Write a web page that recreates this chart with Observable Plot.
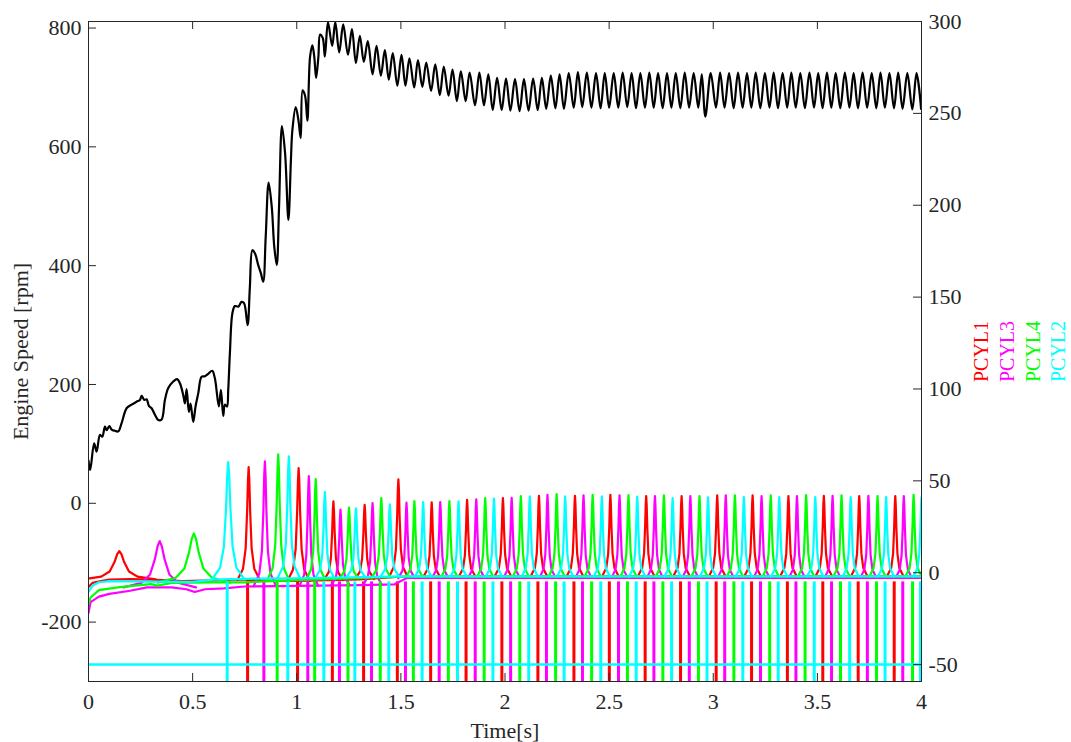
<!DOCTYPE html>
<html>
<head>
<meta charset="utf-8">
<script src="https://cdn.jsdelivr.net/npm/d3@7"></script>
<script src="https://cdn.jsdelivr.net/npm/@observablehq/plot@0.6"></script>
<style>
  html, body { margin: 0; padding: 0; background: #ffffff; }
  #chart svg { display: block; }
</style>
</head>
<body>
<div id="chart"></div>
<script>
// ---------- data ----------
const xTicks = [0, 0.5, 1, 1.5, 2, 2.5, 3, 3.5, 4];
const leftTicks = [-200, 0, 200, 400, 600, 800];
const rightTicks = [-50, 0, 50, 100, 150, 200, 250, 300];
const leftDomain = [-300, 811];
const rightDomain = [-59.2, 300];

const cylNames = ["PCYL1", "PCYL3", "PCYL4", "PCYL2"];
const cylColors = ["#ff0000", "#ff00ff", "#00ff00", "#00ffff"];

// Engine speed [t (s), rpm]
const speedRpm = [
[0.000,72],[0.008,56],[0.027,101],[0.039,87],[0.055,115],[0.066,112],[0.079,129],[0.087,123],[0.100,130],[0.111,124],
[0.127,122],[0.143,121],[0.159,135],[0.183,160],[0.207,166],[0.231,171],[0.247,174],[0.255,181],[0.268,174],[0.279,175],
[0.290,164],[0.303,160],[0.319,149],[0.335,140],[0.351,141],[0.367,174],[0.383,194],[0.407,205],[0.426,209],[0.439,202],
[0.455,182],[0.463,168],[0.471,192],[0.482,154],[0.490,168],[0.503,137],[0.514,163],[0.527,185],[0.543,213],[0.559,214],
[0.575,218],[0.594,223],[0.607,210],[0.626,163],[0.636,191],[0.647,147],[0.655,166],[0.665,163],[0.671,191],[0.679,253],
[0.691,320],[0.703,332],[0.719,331],[0.735,339],[0.747,337],[0.764,300],[0.775,365],[0.787,426],[0.799,421],[0.815,401],
[0.828,387],[0.839,373],[0.851,449],[0.865,540],[0.880,499],[0.892,432],[0.904,401],[0.915,499],[0.929,635],[0.944,589],
[0.960,477],[0.972,578],[0.979,628],[0.995,667],[1.008,645],[1.019,615],[1.028,695],[1.040,686],[1.051,644],[1.064,752],
[1.075,771],[1.084,752],[1.093,716],[1.104,752],[1.112,789],[1.125,783],[1.135,752],[1.150,810],[1.170,770],[1.185,810],
[1.204,759],[1.223,806],[1.246,755],[1.265,798],[1.284,741],[1.303,787],[1.322,743],[1.341,778],[1.364,722],[1.383,770],
[1.404,720],[1.423,763],[1.442,713],[1.461,758],[1.483,703],[1.503,755],[1.522,703],[1.541,749],[1.564,700],[1.582,746],
[1.603,701],[1.622,742],[1.645,694],[1.665,739],[1.687,687],[1.706,735],[1.729,686],[1.748,730],[1.769,677],[1.788,727],
[1.811,677],[1.830,725],[1.856,670],[1.877,725],[1.899,670],[1.920,722],[1.941,662],[1.962,716],[1.984,662],[2.005,715],
[2.026,661],[2.048,714],[2.070,660],[2.091,714],[2.113,661],[2.135,715],[2.157,662],[2.177,716],[2.198,664],[2.220,720],
[2.242,665],[2.262,722],[2.283,664],[2.306,724],[2.330,666],[2.350,726],[2.371,667],[2.393,725],[2.415,666],[2.437,724],
[2.459,665],[2.479,724],[2.500,666],[2.522,724],[2.544,666],[2.565,725],[2.587,667],[2.608,724],[2.629,665],[2.650,724],
[2.672,666],[2.693,725],[2.714,666],[2.735,724],[2.757,665],[2.778,724],[2.799,666],[2.820,724],[2.842,665],[2.863,725],
[2.884,666],[2.906,724],[2.928,666],[2.945,722],[2.962,651],[2.988,724],[3.013,666],[3.033,725],[3.054,666],[3.076,724],
[3.098,665],[3.119,725],[3.141,666],[3.162,724],[3.183,666],[3.204,725],[3.226,665],[3.248,724],[3.270,666],[3.290,725],
[3.311,665],[3.333,724],[3.355,666],[3.375,725],[3.396,666],[3.418,724],[3.440,665],[3.462,725],[3.484,666],[3.504,724],
[3.525,665],[3.546,725],[3.567,666],[3.588,724],[3.610,665],[3.632,725],[3.654,666],[3.674,724],[3.695,665],[3.717,725],
[3.739,666],[3.761,724],[3.783,665],[3.803,725],[3.824,666],[3.846,724],[3.868,665],[3.888,725],[3.909,664],[3.932,724],
[3.956,663],[3.976,724],[3.998,664]
];

// Cylinder pressure peaks (right axis); firing order 1-3-4-2 repeats (index % 4 -> cylNames)
const peakTimes = [
0.148,0.342,0.506,0.671,0.769,0.847,0.911,0.962,1.009,1.058,
1.091,1.135,1.176,1.210,1.251,1.284,1.326,1.364,1.406,1.447,
1.488,1.527,1.565,1.607,1.648,1.689,1.733,1.777,1.818,1.862,
1.905,1.947,1.990,2.032,2.076,2.119,2.163,2.204,2.248,2.289,
2.336,2.377,2.421,2.465,2.506,2.550,2.593,2.635,2.678,2.720,
2.763,2.805,2.848,2.890,2.934,2.975,3.019,3.060,3.104,3.147,
3.189,3.232,3.276,3.317,3.361,3.402,3.446,3.490,3.531,3.573,
3.616,3.660,3.701,3.745,3.789,3.830,3.874,3.915,3.962,4.000
];
const peakValues = [
11.8,17.2,21.4,60.2,57.5,60.6,64.4,63.3,56.9,52.6,
50.9,43.9,38.8,34.3,35.4,35.0,37.0,37.9,40.6,37.2,
50.8,38.1,39.0,38.5,38.3,38.5,39.0,38.8,39.7,39.9,
40.6,40.3,40.6,40.8,41.7,41.5,41.9,42.4,42.8,41.5,
41.9,42.1,42.4,41.5,42.4,42.1,42.3,41.4,41.7,41.7,
42.1,40.6,41.7,41.7,41.7,41.0,42.1,42.1,42.1,41.2,
42.1,41.7,42.1,41.2,41.7,41.7,42.3,41.2,41.9,41.9,
42.1,41.2,41.7,41.9,41.7,41.2,41.7,41.7,42.4,41.0
];

// Baseline (between peaks) of each cylinder pressure [t, value]
const baseP1 = [[0,-7.8],[0.02,-5.5],[0.06,-4.6],[0.1,-3.8],[0.2,-3.5],[0.3,-3.8],[0.45,-4.5],[0.6,-4.2],[0.73,-3.6],[0.8,-4.2],[1.0,-4.5],[1.3,-3.6],[1.5,-2.2],[2.0,-1.8],[4.0,-1.8]];
const baseP3 = [[0,-22],[0.01,-16],[0.05,-13],[0.1,-11.5],[0.2,-9.8],[0.28,-8],[0.4,-8],[0.47,-9],[0.51,-10.5],[0.56,-9],[0.65,-8.5],[0.75,-7.5],[1.0,-7.2],[1.3,-6.8],[1.47,-6.3],[1.53,-2.8],[4.0,-2.8]];
const baseP4 = [[0,-17],[0.01,-13.5],[0.05,-9.5],[0.15,-7.8],[0.3,-6.2],[0.33,-7],[0.4,-5.6],[0.6,-5.2],[0.75,-5.2],[1.0,-4],[1.5,-2.2],[4.0,-2]];
const baseP2 = [[0,-10.5],[0.02,-7],[0.05,-5.2],[0.1,-4.6],[0.3,-4.8],[0.5,-5],[0.6,-3.8],[0.75,-3.3],[1.0,-3],[1.5,-2],[4.0,-2]];
const baselines = [baseP1, baseP3, baseP4, baseP2];

// PCYL2 floor level line
const pcyl2Floor = -50;

// ---------- rendering helpers (shape / styling only) ----------
const shapeDx  = [-6, -3, -1.6, -0.8, -0.35, 0, 0.35, 0.8, 1.6, 3, 6];
const shapeRel = [0, 0.1, 0.28, 0.61, 0.89, 1, 0.89, 0.61, 0.28, 0.1, 0];
const widthSteps = [[0, 0.029], [0.6, 0.013], [0.72, 0.009], [1.03, 0.0075], [1.5, 0.0065]];
const firstDrop = 3, dropLead = 0.005, dropTop = -5;

const toLeft = v => leftDomain[0] + (v - rightDomain[0]) * (leftDomain[1] - leftDomain[0]) / (rightDomain[1] - rightDomain[0]);
const toRight = y => rightDomain[0] + (y - leftDomain[0]) * (rightDomain[1] - rightDomain[0]) / (leftDomain[1] - leftDomain[0]);
function halfWidthAt(t) { let w = widthSteps[0][1]; for (const [t0, g] of widthSteps) if (t >= t0) w = g; return w; }
function baseAt(arr, t) {
  for (let i = 1; i < arr.length; i++) {
    if (t <= arr[i][0]) { const [a, va] = arr[i-1], [b, vb] = arr[i]; return va + (vb - va) * (t - a) / (b - a); }
  }
  return arr[arr.length - 1][1];
}

const peakLayers = cylNames.map(() => []);
const dropLayers = cylNames.map(() => []);
peakTimes.forEach((t, i) => {
  const c = i % 4;
  const g = halfWidthAt(t);
  const b = baseAt(baselines[c], t);
  shapeDx.forEach((dx, j) => peakLayers[c].push({k: i, t: t + dx * g, v: b + shapeRel[j] * (peakValues[i] - b)}));
  if (i >= firstDrop) dropLayers[c].push({t: t - dropLead});
});

const W = 1071, H = 742, mL = 88, mR = 150, mT = 21, mB = 61;
const innerW = W - mL - mR, innerH = H - mT - mB;
const ink = "#262626";
const font = "'Liberation Serif', 'Times New Roman', serif";

const cylMarks = [];
cylNames.forEach((name, c) => {
  cylMarks.push(Plot.line(baselines[c], {x: d => d[0], y: d => toLeft(d[1]), stroke: cylColors[c], strokeWidth: 2.2, clip: true}));
  cylMarks.push(Plot.line(peakLayers[c], {x: "t", y: d => toLeft(d.v), z: "k", stroke: cylColors[c], strokeWidth: 2.2, clip: true}));
  cylMarks.push(Plot.ruleX(dropLayers[c], {x: "t", y1: toLeft(dropTop), y2: leftDomain[0], stroke: cylColors[c], strokeWidth: 3, clip: true}));
  if (c === 3) cylMarks.push(Plot.ruleY([toLeft(pcyl2Floor)], {x1: 0, x2: 4, stroke: cylColors[c], strokeWidth: 2.5, clip: true}));
});

const labelDx = [60.5, 86.5, 112, 137];

const chart = Plot.plot({
  width: W, height: H,
  marginLeft: mL, marginRight: mR, marginTop: mT, marginBottom: mB,
  style: {fontFamily: font, fontSize: "22px", color: ink, background: "#ffffff", overflow: "visible"},
  x: {domain: [0, 4]},
  y: {domain: leftDomain},
  marks: [
    Plot.line(speedRpm, {x: d => d[0], y: d => d[1], stroke: "#000000", strokeWidth: 2.2, curve: "catmull-rom", clip: true}),
    ...cylMarks,
    Plot.frame({stroke: ink, strokeWidth: 1}),
    // inward ticks
    Plot.ruleX(xTicks, {x: d => d, insetTop: innerH - 8, stroke: ink}),
    Plot.ruleX(xTicks, {x: d => d, insetBottom: innerH - 8, stroke: ink}),
    Plot.ruleY(leftTicks, {y: d => d, insetRight: innerW - 8, stroke: ink}),
    Plot.ruleY(rightTicks.map(toLeft), {y: d => d, insetLeft: innerW - 8, stroke: ink}),
    // tick labels
    Plot.axisX(xTicks, {anchor: "bottom", tickSize: 0, tickPadding: 12, tickFormat: d => String(d), label: null}),
    Plot.axisY(leftTicks, {anchor: "left", tickSize: 0, tickPadding: 7, tickFormat: d => String(d), label: null}),
    Plot.axisY(rightTicks.map(toLeft), {anchor: "right", tickSize: 0, tickPadding: 7, tickFormat: d => String(Math.round(toRight(d))), label: null}),
    // axis titles
    Plot.text(["Time[s]"], {frameAnchor: "bottom", dy: 49, textAnchor: "middle", lineAnchor: "middle", fill: ink, fontSize: 22}),
    Plot.text(["Engine Speed [rpm]"], {frameAnchor: "left", dx: -68, rotate: -90, textAnchor: "middle", lineAnchor: "middle", fill: ink, fontSize: 22}),
    ...cylNames.map((n, i) => Plot.text([n], {frameAnchor: "right", dx: labelDx[i], rotate: -90, textAnchor: "middle", lineAnchor: "middle", fill: cylColors[i], fontSize: 20}))
  ]
});
document.getElementById("chart").appendChild(chart);
</script>
</body>
</html>
